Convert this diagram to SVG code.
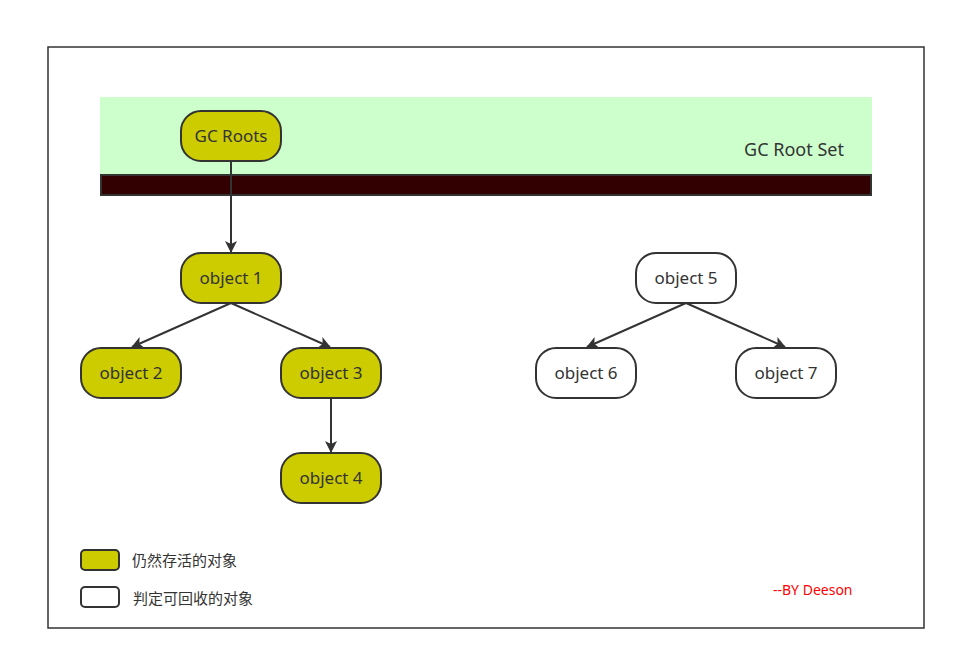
<svg xmlns="http://www.w3.org/2000/svg" width="956" height="660" viewBox="0 0 956 660">
<style>
text{font-family:"Noto Sans","Open Sans","Noto Sans CJK SC",sans-serif;fill:#333333}
.live{fill:#cccc00;stroke:#333333;stroke-width:2}
.dead{fill:#ffffff;stroke:#333333;stroke-width:2}
.lbl{font-size:17px;text-anchor:middle}
.leg{font-size:15px}
.edge{stroke:#333333;stroke-width:2;fill:none;marker-end:url(#arr)}
</style>
<defs>
<marker id="arr" markerWidth="12" markerHeight="12" refX="11" refY="6" orient="auto" markerUnits="userSpaceOnUse" viewBox="0 0 12 12">
<path d="M0,0 L12,6 L0,12 L3,6 Z" fill="#333333"/>
</marker>
</defs>
<rect x="0" y="0" width="956" height="660" fill="#ffffff"/>
<rect id="frame" x="48" y="47" width="876" height="581" fill="#ffffff" stroke="#333333" stroke-width="1.5"/>
<g id="rootset">
<rect x="100" y="97" width="772" height="78" fill="#ccffcc"/>
<rect x="101" y="175" width="770" height="20" fill="#330000" stroke="#333333" stroke-width="2"/>
<text x="794" y="156" font-size="18" text-anchor="middle">GC Root Set</text>
</g>
<g id="connectors">
<line class="edge" x1="231" y1="161" x2="231" y2="252"/>
<line class="edge" x1="231" y1="303" x2="132" y2="347"/>
<line class="edge" x1="231" y1="303" x2="330" y2="347"/>
<line class="edge" x1="331" y1="398" x2="331" y2="452"/>
<line class="edge" x1="686" y1="303" x2="587" y2="347"/>
<line class="edge" x1="686" y1="303" x2="785" y2="347"/>
</g>
<g id="gcroots"><rect class="live" x="181" y="111" width="100" height="50" rx="20"/><text class="lbl" x="231" y="142">GC Roots</text></g>
<g id="obj1"><rect class="live" x="181" y="253" width="100" height="50" rx="20"/><text class="lbl" x="231" y="284">object 1</text></g>
<g id="obj2"><rect class="live" x="81" y="348" width="100" height="50" rx="20"/><text class="lbl" x="131" y="379">object 2</text></g>
<g id="obj3"><rect class="live" x="281" y="348" width="100" height="50" rx="20"/><text class="lbl" x="331" y="379">object 3</text></g>
<g id="obj4"><rect class="live" x="281" y="453" width="100" height="50" rx="20"/><text class="lbl" x="331" y="484">object 4</text></g>
<g id="obj5"><rect class="dead" x="636" y="253" width="100" height="50" rx="20"/><text class="lbl" x="686" y="284">object 5</text></g>
<g id="obj6"><rect class="dead" x="536" y="348" width="100" height="50" rx="20"/><text class="lbl" x="586" y="379">object 6</text></g>
<g id="obj7"><rect class="dead" x="736" y="348" width="100" height="50" rx="20"/><text class="lbl" x="786" y="379">object 7</text></g>
<g id="legend">
<rect class="live" x="81" y="550" width="38" height="20" rx="4"/>
<text class="leg" x="132" y="566">仍然存活的对象</text>
<rect class="dead" x="81" y="587" width="38" height="20" rx="4"/>
<text class="leg" x="133" y="604">判定可回收的对象</text>
</g>
<text x="773" y="595" font-size="14" style="fill:#ff0000">--BY Deeson</text>
</svg>
